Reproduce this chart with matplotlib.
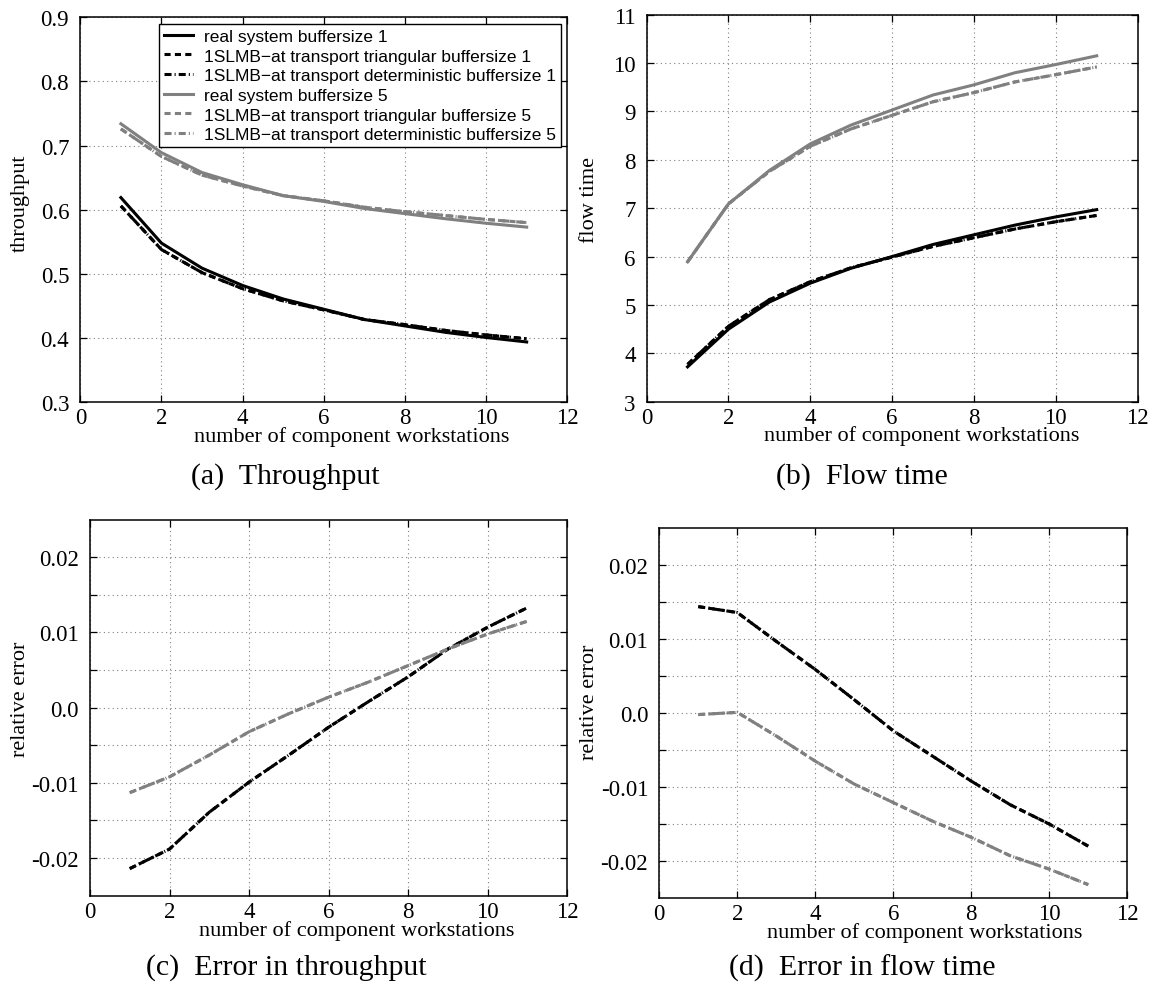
import numpy as np
import matplotlib.pyplot as plt

# number of component workstations
stations = [1, 2, 3, 4, 5, 6, 7, 8, 9, 10, 11]

# throughput
thr_real_b1 = [0.619, 0.548, 0.509, 0.482, 0.461, 0.445, 0.429, 0.419, 0.409, 0.401, 0.394]
thr_tri_b1 = [0.606, 0.538, 0.502, 0.477, 0.458, 0.444, 0.429, 0.421, 0.412, 0.405, 0.399]
thr_det_b1 = [0.606, 0.538, 0.502, 0.477, 0.458, 0.444, 0.429, 0.421, 0.412, 0.405, 0.399]
thr_real_b5 = [0.734, 0.689, 0.658, 0.639, 0.622, 0.613, 0.602, 0.594, 0.586, 0.579, 0.573]
thr_tri_b5 = [0.726, 0.683, 0.654, 0.637, 0.622, 0.614, 0.604, 0.597, 0.591, 0.585, 0.580]
thr_det_b5 = [0.726, 0.683, 0.654, 0.637, 0.622, 0.614, 0.604, 0.597, 0.591, 0.585, 0.580]

# flow time
flow_real_b1 = [3.72, 4.50, 5.06, 5.45, 5.76, 6.00, 6.25, 6.45, 6.65, 6.82, 6.97]
flow_tri_b1 = [3.77, 4.56, 5.11, 5.48, 5.77, 5.99, 6.21, 6.39, 6.57, 6.72, 6.85]
flow_det_b1 = [3.77, 4.56, 5.11, 5.48, 5.77, 5.99, 6.21, 6.39, 6.57, 6.72, 6.85]
flow_real_b5 = [5.89, 7.09, 7.78, 8.33, 8.72, 9.03, 9.34, 9.55, 9.80, 9.97, 10.15]
flow_tri_b5 = [5.89, 7.09, 7.76, 8.28, 8.64, 8.92, 9.20, 9.39, 9.61, 9.76, 9.92]
flow_det_b5 = [5.89, 7.09, 7.76, 8.28, 8.64, 8.92, 9.20, 9.39, 9.61, 9.76, 9.92]

# relative errors of the approximation
err_thr_tri_b1 = [-0.0214, -0.0188, -0.0139, -0.0099, -0.0063, -0.0026, 0.0008, 0.0041, 0.0078, 0.0107, 0.0133]
err_thr_det_b1 = [-0.0214, -0.0188, -0.0139, -0.0099, -0.0063, -0.0026, 0.0008, 0.0041, 0.0078, 0.0107, 0.0133]
err_thr_tri_b5 = [-0.0113, -0.0092, -0.0063, -0.0032, -0.0008, 0.0014, 0.0034, 0.0056, 0.0078, 0.0098, 0.0115]
err_thr_det_b5 = [-0.0113, -0.0092, -0.0063, -0.0032, -0.0008, 0.0014, 0.0034, 0.0056, 0.0078, 0.0098, 0.0115]
err_flow_tri_b1 = [0.0144, 0.0136, 0.0097, 0.0059, 0.0018, -0.0024, -0.0058, -0.0092, -0.0124, -0.0150, -0.0180]
err_flow_det_b1 = [0.0144, 0.0136, 0.0097, 0.0059, 0.0018, -0.0024, -0.0058, -0.0092, -0.0124, -0.0150, -0.0180]
err_flow_tri_b5 = [-0.0002, 0.0001, -0.0031, -0.0065, -0.0096, -0.0121, -0.0146, -0.0168, -0.0193, -0.0211, -0.0232]
err_flow_det_b5 = [-0.0002, 0.0001, -0.0031, -0.0065, -0.0096, -0.0121, -0.0146, -0.0168, -0.0193, -0.0211, -0.0232]

legend_labels = ['real system buffersize 1',
                 '1SLMB\u2212at transport triangular buffersize 1',
                 '1SLMB\u2212at transport deterministic buffersize 1',
                 'real system buffersize 5',
                 '1SLMB\u2212at transport triangular buffersize 5',
                 '1SLMB\u2212at transport deterministic buffersize 5']

x_ticks = [0, 2, 4, 6, 8, 10, 12]
thr_ticks = [0.3, 0.4, 0.5, 0.6, 0.7, 0.8, 0.9]
flow_ticks = [3, 4, 5, 6, 7, 8, 9, 10, 11]
err_ticks = [-0.02, -0.015, -0.01, -0.005, 0.0, 0.005, 0.01, 0.015, 0.02]
err_tick_labels = ['-0.02', '', '-0.01', '', '0.0', '', '0.01', '', '0.02']

SERIF = ['Liberation Serif', 'DejaVu Serif']
SANS = ['Liberation Sans', 'DejaVu Sans']
GREY = '0.5'
LW = 2.2
SOLID = '-'
DASHED = (0, (2.0, 1.4))
DASHDOT = (0, (2.3, 1.0, 0.35, 1.0))

plt.rcParams['font.family'] = SERIF


def style_axis(ax, xlab_x, xlab_y, ylab, ylab_x, ylab_y):
    ax.set_xlim(0, 12)
    ax.set_xticks(x_ticks)
    ax.set_xticklabels([str(t) for t in x_ticks])
    ax.grid(True, color='0.5', linestyle=(0, (1, 3)), linewidth=0.8)
    ax.tick_params(direction='in', top=True, right=True, length=5, width=0.9,
                   labelsize=16.5)
    ax.tick_params(axis='x', pad=3.5)
    ax.tick_params(axis='y', pad=8)
    for sp in ax.spines.values():
        sp.set_linewidth(1.1)
    ax.set_xlabel('number of component workstations', fontsize=16)
    ax.xaxis.set_label_coords(xlab_x, xlab_y)
    ax.set_ylabel(ylab, fontsize=16)
    ax.yaxis.set_label_coords(ylab_x, ylab_y)


fig = plt.figure(figsize=(11.49, 9.87), dpi=100)

ax_a = fig.add_axes([0.0699, 0.5914, 0.4238, 0.3901])
ax_b = fig.add_axes([0.5628, 0.5920, 0.4273, 0.3921])
ax_c = fig.add_axes([0.0783, 0.0915, 0.4154, 0.3810])
ax_d = fig.add_axes([0.5738, 0.0892, 0.4073, 0.3746])

# (a) throughput
ax_a.plot(stations, thr_real_b1, color='k', lw=LW, ls=SOLID, label=legend_labels[0])
ax_a.plot(stations, thr_tri_b1, color='k', lw=LW, ls=DASHED, label=legend_labels[1])
ax_a.plot(stations, thr_det_b1, color='k', lw=LW, ls=DASHDOT, label=legend_labels[2])
ax_a.plot(stations, thr_real_b5, color=GREY, lw=LW, ls=SOLID, label=legend_labels[3])
ax_a.plot(stations, thr_tri_b5, color=GREY, lw=LW, ls=DASHED, label=legend_labels[4])
ax_a.plot(stations, thr_det_b5, color=GREY, lw=LW, ls=DASHDOT, label=legend_labels[5])
ax_a.set_ylim(0.3, 0.9)
ax_a.set_yticks(thr_ticks)
ax_a.set_yticklabels(['%.1f' % t for t in thr_ticks])
style_axis(ax_a, 0.557, -0.061, 'throughput', -0.103, 0.520)
leg = ax_a.legend(loc='upper right', prop={'family': SANS, 'size': 12.5},
                  fancybox=False, framealpha=1, edgecolor='k',
                  labelspacing=0.26, borderpad=0.3, handlelength=1.68,
                  handletextpad=0.6, borderaxespad=0.36)
leg.get_frame().set_linewidth(1.0)

# (b) flow time
ax_b.plot(stations, flow_real_b1, color='k', lw=LW, ls=SOLID)
ax_b.plot(stations, flow_tri_b1, color='k', lw=LW, ls=DASHED)
ax_b.plot(stations, flow_det_b1, color='k', lw=LW, ls=DASHDOT)
ax_b.plot(stations, flow_real_b5, color=GREY, lw=LW, ls=SOLID)
ax_b.plot(stations, flow_tri_b5, color=GREY, lw=LW, ls=DASHED)
ax_b.plot(stations, flow_det_b5, color=GREY, lw=LW, ls=DASHDOT)
ax_b.set_ylim(3, 11)
ax_b.set_yticks(flow_ticks)
ax_b.set_yticklabels([str(t) for t in flow_ticks])
style_axis(ax_b, 0.561, -0.061, 'flow time', -0.097, 0.524)

# (c) error in throughput
ax_c.plot(stations, err_thr_tri_b1, color='k', lw=LW, ls=DASHED)
ax_c.plot(stations, err_thr_det_b1, color='k', lw=LW, ls=DASHDOT)
ax_c.plot(stations, err_thr_tri_b5, color=GREY, lw=LW, ls=DASHED)
ax_c.plot(stations, err_thr_det_b5, color=GREY, lw=LW, ls=DASHDOT)
ax_c.set_ylim(-0.025, 0.025)
ax_c.set_yticks(err_ticks)
ax_c.set_yticklabels(err_tick_labels)
style_axis(ax_c, 0.558, -0.064, 'relative error', -0.126, 0.526)

# (d) error in flow time
ax_d.plot(stations, err_flow_tri_b1, color='k', lw=LW, ls=DASHED)
ax_d.plot(stations, err_flow_det_b1, color='k', lw=LW, ls=DASHDOT)
ax_d.plot(stations, err_flow_tri_b5, color=GREY, lw=LW, ls=DASHED)
ax_d.plot(stations, err_flow_det_b5, color=GREY, lw=LW, ls=DASHDOT)
ax_d.set_ylim(-0.025, 0.025)
ax_d.set_yticks(err_ticks)
ax_d.set_yticklabels(err_tick_labels)
style_axis(ax_d, 0.568, -0.065, 'relative error', -0.129, 0.533)

# sub-figure captions
W, H = 1149.0, 987.0
captions = [('(a)  Throughput', 285.5, 477),
            ('(b)  Flow time', 862, 477),
            ('(c)  Error in throughput', 286, 968),
            ('(d)  Error in flow time', 862, 968)]
for txt, cx, cy in captions:
    fig.text(cx / W, 1 - cy / H, txt, ha='center', va='center', fontsize=21.5)

fig.savefig('out.png', dpi=100)
